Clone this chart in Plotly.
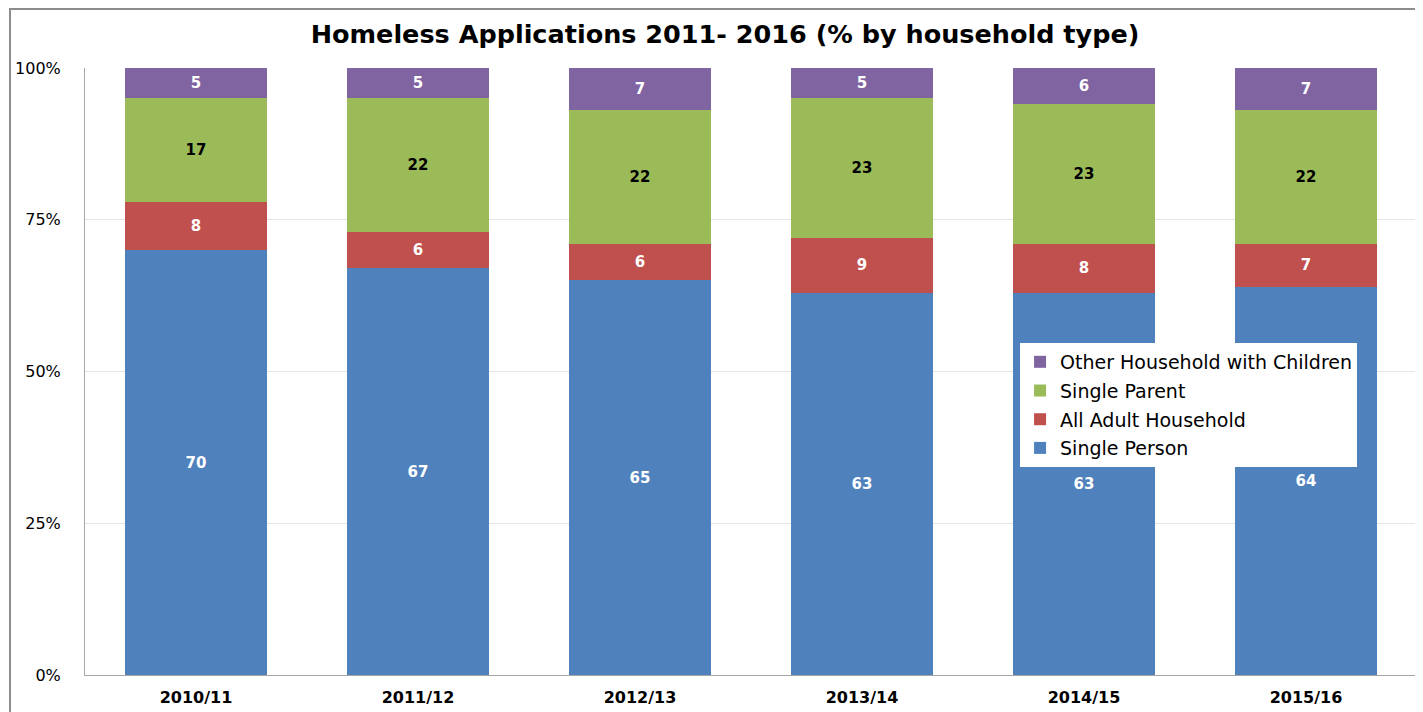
import plotly.graph_objects as go

categories = ["2010/11", "2011/12", "2012/13", "2013/14", "2014/15", "2015/16"]
single_person = [70, 67, 65, 63, 63, 64]
all_adult = [8, 6, 6, 9, 8, 7]
single_parent = [17, 22, 22, 23, 23, 22]
other_children = [5, 5, 7, 5, 6, 7]

series = [
    ("Single Person", single_person, "#4F81BD", "white", 4),
    ("All Adult Household", all_adult, "#C0504D", "white", 3),
    ("Single Parent", single_parent, "#9BBB59", "black", 2),
    ("Other Household with Children", other_children, "#8064A2", "white", 1),
]

FONT = "DejaVu Sans"
fig = go.Figure()
for name, vals, color, tcol, rank in series:
    fig.add_trace(go.Bar(
        x=categories, y=vals, name=name, legendgroup=name, legendrank=rank,
        marker=dict(color=color, line=dict(width=0)),
        text=[str(v) for v in vals], textposition="inside",
        insidetextanchor="middle", textangle=0,
        textfont=dict(family=FONT, size=15, color=tcol, weight="bold"),
    ))

# page body has an 8px margin; figure is sized/offset to compensate
fig.update_layout(
    width=1415, height=704,
    barmode="stack", bargap=0.356,
    paper_bgcolor="white", plot_bgcolor="white",
    margin=dict(l=77, r=6, t=60, b=37, autoexpand=False),
    title=dict(text="<b>Homeless Applications 2011- 2016 (% by household type)</b>",
               x=(725 - 8) / 1415, xanchor="center", xref="container",
               y=(704 - 26) / 704, yanchor="middle",
               font=dict(family=FONT, size=25.5, color="black")),
    showlegend=True,
    legend=dict(traceorder="grouped", x=0.702, y=0.547, xanchor="left", yanchor="top",
                bgcolor="white", font=dict(family=FONT, size=19, color="black"),
                itemsizing="constant", tracegroupgap=1, itemwidth=30),
    xaxis=dict(showline=True, linecolor="#a6a6a6", linewidth=1, ticks="",
               tickfont=dict(family=FONT, size=16, color="black", weight="bold"),
               showgrid=False, automargin=False, ticklabelstandoff=8),
    yaxis=dict(range=[0, 100], tickvals=[0, 25, 50, 75, 100],
               ticktext=["0%", "25%", "50%", "75%", "100%"],
               showline=True, linecolor="#a6a6a6", linewidth=1,
               showgrid=True, gridcolor="#e6e6e6", gridwidth=1,
               tickfont=dict(family=FONT, size=16, color="black"),
               ticklabelstandoff=20, zeroline=False, automargin=False),
)

fig.add_shape(type="rect", xref="paper", yref="paper",
              x0=(10 - 85) / 1332, x1=(1425 - 85) / 1332,
              y0=(675 - 716) / 607, y1=(675 - 9) / 607,
              line=dict(color="#8c8c8c", width=2), fillcolor="rgba(0,0,0,0)", layer="below")

fig.write_html("out.html")
